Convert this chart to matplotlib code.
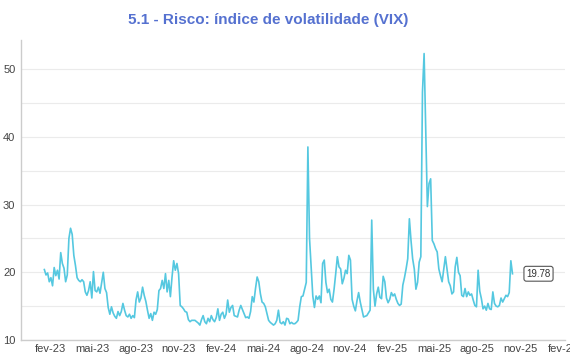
import matplotlib.pyplot as plt
import matplotlib.dates as mdates
import pandas as pd

# VIX, leitura a cada 3,5 dias (qua / sab) a partir de 18-jan-2023
vix_2023 = [
    20.4, 19.6, 19.9, 18.6, 19.2, 18.0, 20.7, 19.5, 20.3, 19.0, 22.9, 21.3,
    20.6, 18.6, 19.6, 25.0, 26.5, 25.6, 22.5, 21.0, 19.2, 18.8,
    18.6, 18.9, 18.6, 17.1, 16.6, 17.3, 18.6, 16.2,
    20.1, 17.3, 17.1, 17.8, 16.9, 18.4, 20.0, 17.6, 17.0, 14.8,
    13.8, 14.9, 14.0, 13.5, 13.2, 14.2, 13.6, 14.2,
    15.4, 14.4, 13.6, 13.4, 13.8, 13.2, 13.6, 13.3,
    15.9, 17.1, 15.6, 16.2, 17.8, 16.6, 15.7, 14.4, 13.2, 13.9,
    12.9, 14.1, 13.8, 14.5, 17.3, 17.6, 18.8, 17.6,
    19.8, 17.1, 18.8, 16.4, 19.3, 21.7, 20.3, 21.3,
    19.8, 15.1, 14.9, 14.6, 14.2, 14.1, 13.0, 12.7, 12.9, 12.9,
    12.9, 12.7, 12.5, 12.2, 13.0, 13.6, 12.7, 12.4,
]
vix_2024 = [
    13.2, 12.7, 13.6, 13.0, 12.7, 13.3, 14.6, 12.9, 13.8, 14.1,
    13.2, 13.8, 15.9, 14.1, 14.8, 15.1, 13.6, 13.5,
    13.4, 14.4, 15.1, 14.5, 13.9, 13.3, 13.4, 13.2,
    14.2, 16.4, 15.6, 17.6, 19.3, 18.6, 16.8, 15.6,
    15.4, 14.9, 13.9, 12.9, 12.6, 12.4, 12.2, 12.4, 12.9, 14.4,
    12.6, 12.4, 12.7, 12.2, 13.2, 13.1, 12.4, 12.6,
    12.4, 12.4, 12.6, 12.9, 14.9, 16.4, 16.5, 17.5, 18.5, 38.5,
    25.0, 20.8, 16.5, 14.8, 16.5, 16.0, 16.5, 15.5,
    21.3, 21.8, 18.5, 17.0, 17.5, 16.0, 15.6, 17.5,
    19.8, 22.3, 20.8, 20.5, 18.3, 19.1, 20.3, 19.8, 22.5, 21.8,
    16.0, 15.0, 14.3, 15.8, 17.0, 15.6, 14.5, 13.4,
    13.5, 13.6, 14.0, 14.4, 27.7, 17.5, 15.0, 16.8,
]
vix_2025 = [
    17.8, 16.3, 16.1, 19.4, 18.6, 16.2, 15.5, 16.0, 17.0, 16.5,
    16.8, 16.0, 15.4, 15.1, 15.3, 18.1, 19.2, 20.5,
    22.0, 27.9, 24.7, 22.0, 20.5, 17.5, 18.5, 21.5,
    22.3, 46.6, 52.3, 40.7, 29.7, 33.1, 33.8, 24.7, 24.2, 23.5,
    23.0, 20.5, 19.5, 18.6, 20.5, 22.3, 20.5, 18.6,
    18.0, 16.8, 17.1, 20.8, 22.2, 20.0, 19.5, 16.6,
    16.4, 17.6, 16.4, 17.1, 16.6, 16.8, 15.9, 15.1, 14.9, 20.3,
    17.2, 16.1, 14.6, 15.0, 14.4, 15.4, 14.6, 14.5,
    17.1, 15.4, 15.0, 14.9, 15.1, 16.2, 15.6, 16.1,
    16.6, 16.4, 17.0, 21.7, 19.78,
]
vix = vix_2023 + vix_2024 + vix_2025
datas = pd.date_range("2023-01-18", periods=len(vix), freq="84h")

meses = ["jan", "fev", "mar", "abr", "mai", "jun",
         "jul", "ago", "set", "out", "nov", "dez"]
ticks = pd.date_range("2023-02-01", "2026-02-01", freq="3MS")
tick_labels = [f"{meses[d.month - 1]}-{d.strftime('%y')}" for d in ticks]

plt.rcParams["font.family"] = ["Liberation Sans", "DejaVu Sans"]

fig = plt.figure(figsize=(5.7, 3.6), dpi=100)
ax = fig.add_axes([0.0368, 0.0556, 0.9542, 0.8333])

ax.plot(datas, vix, color="#55c8e0", lw=1.2)

ax.set_ylim(10, 54.3)
ax.set_xlim(pd.Timestamp("2022-11-29"), pd.Timestamp("2026-02-04"))
ax.set_yticks([10, 20, 30, 40, 50])
ax.set_yticks([15, 25, 35, 45], minor=True)
ax.set_xticks(ticks)
ax.set_xticklabels(tick_labels)

ax.grid(axis="y", which="both", color="#ebebeb", lw=0.8)
ax.set_axisbelow(True)
for s in ["top", "right"]:
    ax.spines[s].set_visible(False)
for s in ["left", "bottom"]:
    ax.spines[s].set_color("#cccccc")
    ax.spines[s].set_linewidth(1.0)
ax.tick_params(which="both", length=0, labelsize=8, labelcolor="#444444", pad=3)
ax.tick_params(axis="y", pad=4)

# rotulo do ultimo valor
ax.annotate(f"{vix[-1]:.2f}", (datas[-1], vix[-1]), xytext=(10, 0),
            textcoords="offset points", va="center", ha="left", fontsize=7,
            color="#333333",
            bbox=dict(boxstyle="round,pad=0.25", fc="white", ec="#555555", lw=0.8))

fig.text(0.47, 0.945, "5.1 - Risco: índice de volatilidade (VIX)",
         ha="center", va="center", fontsize=11, fontweight="bold",
         color="#5571d0")

fig.savefig("out.png", dpi=100)
